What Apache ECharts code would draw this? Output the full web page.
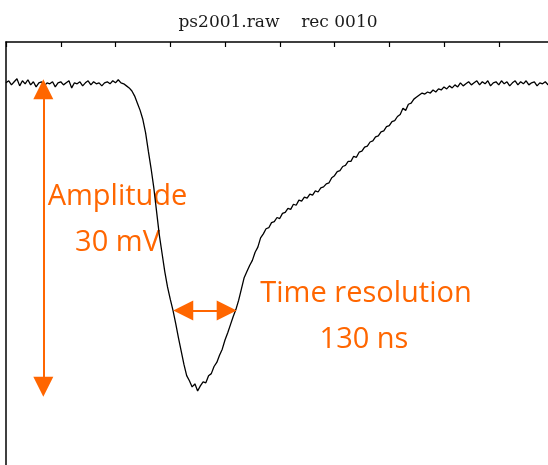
<!DOCTYPE html>
<html><head><meta charset="utf-8">
<script src="https://cdn.jsdelivr.net/npm/echarts@6/dist/echarts.min.js"></script>
<style>html,body{margin:0;padding:0;background:#fff}#c{width:548px;height:465px}</style>
</head><body><div id="c"></div>
<script>
const titleText = 'ps2001.raw    rec 0010';
const xTickIntervalNs = 100;

const timesNs = [
  0,5,10,15,20,25,30,35,40,45,50,55,60,65,70,75,80,85,90,95,
  100,105,110,115,120,125,130,135,140,145,150,155,160,165,170,175,180,185,190,195,
  200,205,210,215,220,225,230,235,240,245,250,255,260,265,270,275,280,285,290,295,
  300,305,310,315,320,325,330,335,340,345,350,355,360,365,370,375,380,385,390,395,
  400,405,410,415,420,425,430,435,440,445,450,455,460,465,470,475,480,485,490,495,
  500,505,510,515,520,525,530,535,540,545,550,555,560,565,570,575,580,585,590,595,
  600,605,610,615,620,625,630,635,640,645,650,655,660,665,670,675,680,685,690,695,
  700,705,710,715,720,725,730,735,740,745,750,755,760,765,770,775,780,785,790,795,
  800,805,810,815,820,825,830,835,840,845,850,855,860,865,870,875,880,885,890,895,
  900,905,910,915,920,925,930,935,940,945,950,955,960,965,970,975,980,985,990,995,
  1000
];

const signalMv = [
  0.1,0.3,-0.1,0.2,0.5,-0.2,0.3,0.0,0.4,-0.1,0.2,-0.3,0.1,0.2,-0.2,0.1,0.0,0.2,-0.3,0.1,
  0.2,-0.1,0.1,0.3,-0.4,0.1,0.0,0.2,-0.2,0.1,0.3,-0.1,0.2,0.0,0.1,-0.2,0.1,0.2,0.0,0.3,
  0.1,0.4,0.1,0.0,-0.2,-0.4,-0.7,-1.2,-1.9,-2.6,-3.5,-4.8,-6.6,-8.3,-10.2,-12.5,-14.8,-16.6,-18.4,-19.9,
  -21.1,-22.2,-23.5,-24.9,-26.2,-27.5,-28.6,-29.1,-29.7,-29.4,-30.1,-29.6,-29.2,-29.3,-28.6,-28.4,-27.7,-27.3,-26.6,-26.0,
  -25.1,-24.4,-23.6,-22.8,-22.1,-21.2,-20.1,-19.0,-18.4,-17.8,-17.3,-16.5,-16.0,-15.1,-14.7,-14.2,-14.1,-13.6,-13.5,-13.1,
  -13.2,-12.7,-12.6,-12.2,-12.3,-11.8,-11.9,-11.4,-11.5,-11.1,-11.2,-10.8,-10.9,-10.5,-10.6,-10.2,-10.1,-9.8,-9.7,-9.2,
  -9.0,-8.6,-8.5,-8.1,-8.0,-7.6,-7.6,-7.1,-7.2,-6.7,-6.6,-6.2,-6.1,-5.7,-5.6,-5.2,-5.1,-4.7,-4.6,-4.2,
  -4.1,-3.7,-3.6,-3.2,-3.0,-2.4,-2.6,-2.0,-1.9,-1.5,-1.3,-1.1,-0.9,-1.0,-0.8,-0.9,-0.6,-0.8,-0.5,-0.6,
  -0.3,-0.5,-0.2,-0.4,-0.1,-0.3,0.1,-0.2,0.0,0.2,-0.1,0.1,0.3,-0.1,0.2,0.0,0.3,-0.2,0.1,0.2,
  -0.1,0.3,0.0,0.2,-0.2,0.1,0.3,-0.1,0.2,0.0,0.3,-0.1,0.1,0.2,-0.2,0.1,0.0,0.2,-0.1,0.1,
  0.0
];

// Annotation arrows (data units: ns, mV)
const amplitudeArrowNs = 68.1;
const amplitudeArrowMv = [-0.54, -29.69];
const resolutionArrowNs = [323.8, 403.1];
const resolutionArrowMv = -22.22;

const amplitudeLabels = ['Amplitude', '30 mV'];
const resolutionLabels = ['Time resolution', '130 ns'];

const data = timesNs.map((t, i) => [t, signalMv[i]]);
const orange = '#FF6600';
const annoFont = '29px "Open Sans"';

const chart = echarts.init(document.getElementById('c'), null, {renderer: 'canvas'});
chart.setOption({
  animation: false,
  backgroundColor: '#fff',
  grid: {left: 6, top: 42, width: 547.5, height: 450, containLabel: false, outerBoundsMode: 'none'},
  xAxis: {
    type: 'value', position: 'top', min: 0, max: 1000, interval: xTickIntervalNs,
    axisLine: {show: true, onZero: false, lineStyle: {color: '#000', width: 1.5}},
    axisTick: {show: true, inside: true, length: 5, lineStyle: {color: '#000', width: 1.2}},
    axisLabel: {show: false}, splitLine: {show: false}
  },
  yAxis: {
    type: 'value', min: -40, max: 4.1,
    axisLine: {show: true, onZero: false, lineStyle: {color: '#000', width: 1.5}},
    axisTick: {show: false}, axisLabel: {show: false}, splitLine: {show: false}
  },
  series: [{
    type: 'line', data: data, symbol: 'none', showSymbol: false, silent: true,
    lineStyle: {color: '#000', width: 1.3}, z: 3,
    markLine: {
      silent: true, symbol: ['triangle', 'triangle'], symbolSize: [20, 20],
      label: {show: false}, emphasis: {disabled: true},
      lineStyle: {color: orange, width: 2, type: 'solid'},
      data: [
        [{coord: [amplitudeArrowNs, amplitudeArrowMv[0]]}, {coord: [amplitudeArrowNs, amplitudeArrowMv[1]]}],
        [{coord: [resolutionArrowNs[0], resolutionArrowMv]}, {coord: [resolutionArrowNs[1], resolutionArrowMv]}]
      ]
    }
  }],
  graphic: [
    {type: 'text', x: 278, y: 23, z: 1, style: {text: titleText, font: '17px "DejaVu Serif"', fill: '#1a1a1a', align: 'center', verticalAlign: 'middle'}},
    {type: 'text', x: 117.5, y: 197, z: 1, style: {text: amplitudeLabels[0], font: annoFont, fill: orange, align: 'center', verticalAlign: 'middle'}},
    {type: 'text', x: 117.5, y: 243, z: 1, style: {text: amplitudeLabels[1], font: annoFont, fill: orange, align: 'center', verticalAlign: 'middle'}},
    {type: 'text', x: 366, y: 294, z: 1, style: {text: resolutionLabels[0], font: annoFont, fill: orange, align: 'center', verticalAlign: 'middle'}},
    {type: 'text', x: 364, y: 340, z: 1, style: {text: resolutionLabels[1], font: annoFont, fill: orange, align: 'center', verticalAlign: 'middle'}}
  ]
});
</script></body></html>
